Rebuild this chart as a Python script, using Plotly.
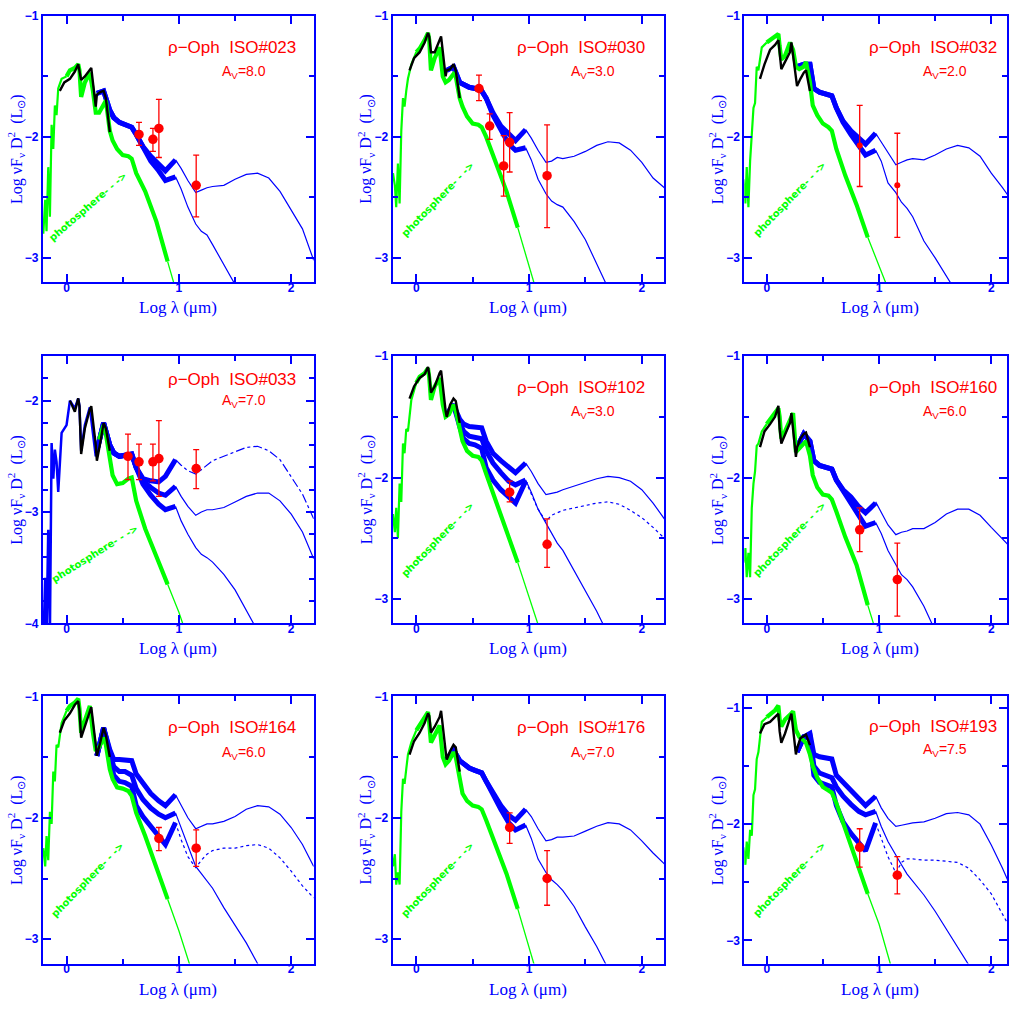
import plotly.graph_objects as go

# ---------------- shared log-lambda grids (micron) ----------------
GX = [-0.207, -0.19, -0.178, -0.163, -0.148, -0.133, -0.118, -0.104, -0.089, -0.074,
      -0.044, 0.0, 0.03, 0.074, 0.104, 0.115, 0.13, 0.163, 0.207, 0.235,
      0.26, 0.29, 0.33, 0.35, 0.385, 0.41, 0.45, 0.50, 0.55, 0.58,
      0.62, 0.70, 0.80, 0.90, 1.0, 1.1, 1.2]
BX = [-0.06, -0.02, 0.03, 0.074, 0.104, 0.115, 0.13, 0.163, 0.207, 0.22, 0.26, 0.27, 0.30, 0.33, 0.35, 0.385]
TX = [0.27, 0.33, 0.385, 0.42, 0.47, 0.52, 0.58, 0.62, 0.68, 0.75, 0.82, 0.88, 0.97]
NX = [0.97, 1.02, 1.08, 1.15, 1.2, 1.25, 1.3, 1.4, 1.5, 1.6, 1.7, 1.8, 1.9, 2.0, 2.1, 2.2]

PANELS = ["023", "030", "032", "033", "102", "160", "164", "176", "193"]
AV_VALUES = ["8.0", "3.0", "2.0", "7.0", "3.0", "6.0", "6.0", "7.0", "7.5"]

# ---------------- photospheres (green) ----------------
GREEN_023 = [-2.80, -2.52, -2.78, -2.25, -2.66, -1.90, -2.10, -1.74, -1.82, -1.60, -1.52, -1.50, -1.45, -1.43, -1.40, -1.45, -1.67, -1.55, -1.47, -1.62, -1.80, -1.80, -1.74, -1.70, -1.95, -2.03, -2.10, -2.15, -2.16, -2.18, -2.30, -2.45, -2.70, -3.03, -3.35, -3.70, -4.00]
GREEN_030 = [-2.30, -2.40, -2.58, -2.22, -2.55, -1.95, -1.68, -1.75, -1.62, -1.52, -1.40, -1.30, -1.27, -1.20, -1.14, -1.20, -1.45, -1.35, -1.26, -1.50, -1.55, -1.53, -1.48, -1.50, -1.68, -1.75, -1.83, -1.89, -1.90, -1.92, -2.00, -2.20, -2.45, -2.75, -3.05, -3.38, -3.70]
GREEN_032 = [-2.35, -2.55, -2.25, -2.58, -2.20, -1.95, -1.76, -1.72, -1.42, -1.45, -1.26, -1.22, -1.20, -1.17, -1.15, -1.25, -1.36, -1.33, -1.22, -1.28, -1.42, -1.44, -1.42, -1.38, -1.55, -1.74, -1.82, -1.89, -1.92, -1.95, -2.10, -2.32, -2.56, -2.83, -3.07, -3.30, -3.60]
GREEN_033 = [None, None, None, None, None, None, None, None, None, None, None, None, None, None, None, None, None, None, None, None, None, -2.35, -2.22, -2.30, -2.55, -2.67, -2.75, -2.74, -2.70, -2.69, -2.90, -3.15, -3.40, -3.65, -3.90, -4.20, -4.50]
GREEN_102 = [-2.30, -2.45, -2.25, -2.50, -2.05, -2.20, -1.72, -1.80, -1.60, -1.62, -1.36, -1.22, -1.17, -1.14, -1.10, -1.18, -1.36, -1.25, -1.18, -1.40, -1.50, -1.48, -1.40, -1.45, -1.60, -1.70, -1.78, -1.82, -1.83, -1.86, -1.97, -2.18, -2.42, -2.70, -2.98, -3.25, -3.55]
GREEN_160 = [-2.70, -2.58, -2.82, -2.62, -2.82, -2.25, -2.05, -1.95, -1.74, -1.72, -1.62, -1.56, -1.52, -1.47, -1.43, -1.50, -1.68, -1.62, -1.52, -1.47, -1.79, -1.76, -1.72, -1.70, -1.82, -1.98, -2.08, -2.14, -2.15, -2.18, -2.28, -2.49, -2.72, -3.05, -3.35, -3.65, -3.95]
GREEN_164 = [-2.25, -2.40, -2.15, -2.35, -1.95, -2.05, -1.62, -1.70, -1.40, -1.42, -1.22, -1.12, -1.08, -1.05, -1.02, -1.10, -1.30, -1.20, -1.08, -1.30, -1.45, -1.42, -1.34, -1.40, -1.60, -1.68, -1.75, -1.76, -1.78, -1.82, -1.96, -2.15, -2.40, -2.67, -2.93, -3.22, -3.52]
GREEN_176 = [-2.40, -2.30, -2.55, -2.45, -2.55, -1.95, -1.68, -1.72, -1.60, -1.48, -1.38, -1.28, -1.24, -1.18, -1.13, -1.22, -1.38, -1.32, -1.24, -1.50, -1.56, -1.53, -1.46, -1.50, -1.70, -1.80, -1.86, -1.90, -1.91, -1.93, -2.02, -2.22, -2.46, -2.75, -3.05, -3.38, -3.70]
GREEN_193 = [-2.20, -2.35, -2.15, -2.30, -2.05, -2.10, -1.75, -1.70, -1.44, -1.38, -1.12, -1.08, -1.06, -1.02, -0.98, -1.10, -1.16, -1.10, -1.06, -1.03, -1.19, -1.25, -1.28, -1.30, -1.40, -1.50, -1.60, -1.68, -1.71, -1.73, -1.82, -2.04, -2.32, -2.60, -2.86, -3.20, -3.50]

# left part of ISO#033 drawn in blue (x = GX[:22])
BLUE_LEFT_033 = [-4.2, -3.59, -4.1, -3.16, -4.1, -2.38, -2.70, -2.44, -2.55, -2.82, -2.29, -2.22, -2.00, -2.07, -1.98, -2.05, -2.45, -2.22, -2.06, -2.30, -2.50, -2.40]

# ---------------- observed spectra (black) ----------------
BLACK_023 = [-1.62, -1.55, -1.52, -1.46, -1.40, -1.45, -1.53, -1.50, -1.45, -1.43, -1.75, -1.65, -1.63, -1.62, -1.68, -1.96]
BLACK_030 = [-1.45, -1.35, -1.30, -1.22, -1.14, -1.17, -1.30, -1.30, -1.20, -1.17, -1.50, -1.45, -1.44, -1.40, -1.45, -1.68]
BLACK_032 = [-1.52, -1.40, -1.28, -1.24, -1.20, -1.30, -1.44, -1.38, -1.30, -1.22, -1.55, -1.58, -1.52, -1.47, -1.45, -1.62]
BLACK_033 = [None, None, -2.00, -2.10, -1.98, -2.05, -2.48, -2.25, -2.08, -2.05, -2.40, -2.54, -2.38, -2.20, -2.25, -2.45]
BLACK_102 = [-1.35, -1.25, -1.18, -1.15, -1.09, -1.15, -1.30, -1.25, -1.14, -1.12, -1.45, -1.50, -1.40, -1.35, -1.37, -1.55]
BLACK_160 = [-1.75, -1.62, -1.56, -1.50, -1.41, -1.60, -1.72, -1.65, -1.55, -1.47, -1.83, -1.75, -1.68, -1.64, -1.63, -1.75]
BLACK_164 = [-1.30, -1.20, -1.14, -1.07, -1.04, -1.12, -1.34, -1.25, -1.12, -1.09, -1.40, -1.49, -1.38, -1.26, -1.32, -1.50]
BLACK_176 = [-1.48, -1.37, -1.30, -1.22, -1.14, -1.16, -1.30, -1.25, -1.17, -1.12, -1.45, -1.52, -1.45, -1.40, -1.42, -1.62]
BLACK_193 = [-1.22, -1.14, -1.12, -1.08, -1.05, -1.20, -1.30, -1.22, -1.10, -1.05, -1.40, -1.35, -1.26, -1.24, -1.23, -1.32]

# ---------------- models, near-IR part (thick blue, x = TX) ----------------
THICK_023_A = [-1.64, -1.62, -1.78, -1.84, -1.88, -1.90, -1.92, -1.98, -2.08, -2.16, -2.22, -2.28, -2.19]
THICK_023_B = [-1.64, -1.62, -1.78, -1.84, -1.88, -1.90, -1.92, -1.98, -2.09, -2.20, -2.28, -2.36, -2.33]
THICK_030_A = [-1.45, -1.42, -1.55, -1.57, -1.59, -1.60, -1.62, -1.68, -1.80, -1.91, -1.98, -2.03, -1.94]
THICK_030_B = [-1.45, -1.42, -1.55, -1.57, -1.59, -1.60, -1.62, -1.68, -1.82, -1.94, -2.06, -2.11, -2.09]
THICK_032_A = [-1.42, -1.40, -1.40, -1.60, -1.63, -1.64, -1.66, -1.76, -1.87, -1.95, -2.01, -2.06, -1.97]
THICK_032_B = [-1.42, -1.40, -1.40, -1.60, -1.63, -1.64, -1.66, -1.76, -1.88, -1.98, -2.07, -2.15, -2.11]
THICK_033_A = [-2.45, -2.20, -2.40, -2.47, -2.50, -2.49, -2.48, -2.60, -2.70, -2.72, -2.73, -2.68, -2.53]
THICK_033_B = [-2.45, -2.20, -2.40, -2.47, -2.50, -2.49, -2.48, -2.60, -2.72, -2.78, -2.83, -2.85, -2.77]
THICK_033_C = [-2.45, -2.20, -2.40, -2.47, -2.50, -2.49, -2.48, -2.60, -2.75, -2.85, -2.93, -2.98, -2.95]
THICK_102_A = [-1.48, -1.40, -1.52, -1.56, -1.58, -1.58, -1.59, -1.70, -1.80, -1.86, -1.92, -1.96, -1.88]
THICK_102_B = [-1.48, -1.40, -1.55, -1.62, -1.66, -1.67, -1.68, -1.78, -1.88, -1.96, -2.03, -2.06, -2.02]
THICK_102_C = [-1.48, -1.40, -1.58, -1.68, -1.72, -1.73, -1.76, -1.92, -2.02, -2.10, -2.16, -2.21, -2.03]
THICK_160_A = [-1.75, -1.64, -1.70, -1.86, -1.90, -1.91, -1.93, -2.02, -2.10, -2.16, -2.24, -2.29, -2.21]
THICK_160_B = [-1.75, -1.64, -1.70, -1.86, -1.90, -1.91, -1.93, -2.02, -2.11, -2.20, -2.32, -2.40, -2.37]
THICK_164_A = [-1.49, -1.26, -1.44, -1.52, -1.52, -1.52, -1.53, -1.64, -1.72, -1.80, -1.86, -1.90, -1.81]
THICK_164_B = [-1.49, -1.26, -1.46, -1.58, -1.62, -1.62, -1.65, -1.76, -1.85, -1.92, -1.97, -2.00, -1.96]
THICK_164_C = [-1.49, -1.26, -1.48, -1.65, -1.70, -1.71, -1.74, -1.90, -1.99, -2.07, -2.14, -2.22, -2.04]
THICK_176_A = [-1.52, -1.44, -1.53, -1.56, -1.59, -1.61, -1.63, -1.70, -1.80, -1.90, -1.98, -2.02, -1.93]
THICK_176_B = [-1.52, -1.44, -1.53, -1.56, -1.59, -1.61, -1.63, -1.70, -1.81, -1.93, -2.04, -2.10, -2.06]
THICK_193_A = [-1.38, -1.25, -1.22, -1.40, -1.42, -1.43, -1.44, -1.58, -1.64, -1.71, -1.79, -1.84, -1.76]
THICK_193_B = [-1.38, -1.25, -1.24, -1.50, -1.56, -1.58, -1.60, -1.68, -1.76, -1.83, -1.89, -1.92, -1.89]
THICK_193_C = [-1.38, -1.25, -1.26, -1.58, -1.64, -1.66, -1.68, -1.84, -1.98, -2.08, -2.17, -2.23, -1.99]

# ---------------- models, mid/far-IR part (thin blue, x = NX) ----------------
THIN_023_A = [-2.19, -2.26, -2.36, -2.46, -2.44, -2.42, -2.41, -2.40, -2.35, -2.31, -2.30, -2.34, -2.45, -2.60, -2.76, -3.02]
THIN_023_B = [-2.33, -2.43, -2.58, -2.72, -2.78, -2.81, -2.89, -3.06, -3.22, -3.42, -3.62, -3.82, -4.02, -4.22, -4.42, -4.62]
THIN_030_A = [-1.94, -2.01, -2.11, -2.21, -2.20, -2.17, -2.18, -2.16, -2.12, -2.07, -2.04, -2.05, -2.11, -2.21, -2.34, -2.42]
THIN_030_B = [-2.09, -2.19, -2.35, -2.47, -2.53, -2.56, -2.58, -2.70, -2.85, -3.04, -3.24, -3.44, -3.64, -3.84, -4.04, -4.24]
THIN_032_A = [-1.97, -2.04, -2.13, -2.23, -2.21, -2.19, -2.18, -2.19, -2.15, -2.10, -2.07, -2.09, -2.16, -2.30, -2.42, -2.55]
THIN_032_B = [-2.11, -2.20, -2.38, -2.46, -2.54, -2.59, -2.66, -2.86, -3.00, -3.15, -3.30, -3.50, -3.70, -3.90, -4.10, -4.30]
THIN_033_A = [-2.53, -2.58, -2.63, -2.66, -2.62, -2.58, -2.54, -2.50, -2.46, -2.42, -2.41, -2.45, -2.53, -2.68, -2.84, -3.06]
THIN_033_B = [-2.77, -2.86, -2.95, -3.03, -3.00, -2.98, -2.98, -2.96, -2.91, -2.86, -2.83, -2.83, -2.90, -3.02, -3.18, -3.42]
THIN_033_C = [-2.95, -3.08, -3.20, -3.32, -3.38, -3.41, -3.45, -3.56, -3.70, -3.88, -4.05, -4.25, -4.45, -4.65, -4.85, -5.05]
THIN_102_A = [-1.88, -1.95, -2.05, -2.14, -2.13, -2.12, -2.10, -2.07, -2.04, -2.01, -1.99, -2.00, -2.03, -2.10, -2.21, -2.34]
THIN_102_B = [-2.02, -2.12, -2.26, -2.38, -2.46, -2.54, -2.60, -2.77, -2.93, -3.10, -3.29, -3.48, -3.67, -3.86, -4.05, -4.24]
THIN_102_C = [-2.03, -2.13, -2.26, -2.36, -2.31, -2.29, -2.27, -2.25, -2.23, -2.21, -2.20, -2.22, -2.27, -2.33, -2.41, -2.50]
THIN_160_A = [-2.20, -2.29, -2.39, -2.47, -2.45, -2.44, -2.42, -2.42, -2.37, -2.30, -2.26, -2.26, -2.31, -2.41, -2.50, -2.60]
THIN_160_B = [-2.37, -2.46, -2.60, -2.71, -2.80, -2.84, -2.90, -3.06, -3.26, -3.46, -3.66, -3.86, -4.06, -4.26, -4.46, -4.66]
THIN_164_A = [-1.81, -1.90, -2.00, -2.09, -2.07, -2.05, -2.05, -2.03, -1.99, -1.93, -1.90, -1.91, -1.97, -2.08, -2.22, -2.40]
THIN_164_B = [-1.96, -2.08, -2.24, -2.40, -2.46, -2.52, -2.58, -2.74, -2.89, -3.03, -3.20, -3.38, -3.56, -3.74, -3.92, -4.10]
THIN_164_C = [-2.04, -2.18, -2.32, -2.41, -2.35, -2.30, -2.27, -2.25, -2.25, -2.23, -2.22, -2.25, -2.33, -2.44, -2.56, -2.66]
THIN_176_A = [-1.93, -1.99, -2.09, -2.19, -2.18, -2.16, -2.16, -2.15, -2.11, -2.07, -2.04, -2.05, -2.10, -2.19, -2.29, -2.38]
THIN_176_B = [-2.06, -2.17, -2.34, -2.45, -2.51, -2.55, -2.60, -2.73, -2.90, -3.06, -3.24, -3.44, -3.64, -3.84, -4.04, -4.24]
THIN_193_A = [-1.76, -1.86, -1.95, -2.02, -2.01, -2.00, -1.99, -1.98, -1.95, -1.91, -1.90, -1.92, -2.00, -2.18, -2.38, -2.60]
THIN_193_B = [-1.89, -2.02, -2.15, -2.26, -2.35, -2.43, -2.49, -2.61, -2.75, -2.90, -3.04, -3.19, -3.35, -3.51, -3.67, -3.83]
THIN_193_C = [-1.99, -2.12, -2.28, -2.42, -2.33, -2.30, -2.30, -2.31, -2.31, -2.32, -2.33, -2.38, -2.48, -2.60, -2.78, -2.95]

# ---------------- photometry (red points; value, upper and lower ends of bars) ----------------
RX_023 = [0.645, 0.769, 0.822, 1.154]; RY_023 = [-1.98, -2.02, -1.93, -2.40]
RHI_023 = [-1.88, -1.93, -1.69, -2.15]; RLO_023 = [-2.07, -2.12, -2.17, -2.66]
RX_030 = [0.556, 0.651, 0.775, 0.828, 1.16]; RY_030 = [-1.60, -1.91, -2.24, -2.045, -2.32]
RHI_030 = [-1.49, -1.81, -1.99, -1.80, -1.90]; RLO_030 = [-1.70, -2.02, -2.49, -2.29, -2.75]
RX_032 = [0.828, 1.163]; RY_032 = [-2.07, -2.40]
RHI_032 = [-1.74, -1.97]; RLO_032 = [-2.41, -2.83]
RX_033 = [0.547, 0.645, 0.769, 0.822, 1.154]; RY_033 = [-2.50, -2.55, -2.55, -2.52, -2.61]
RHI_033 = [-2.30, -2.39, -2.39, -2.18, -2.44]; RLO_033 = [-2.71, -2.71, -2.72, -2.86, -2.79]
RX_102 = [0.828, 1.16]; RY_102 = [-2.12, -2.55]
RHI_102 = [-2.03, -2.34]; RLO_102 = [-2.20, -2.74]
RX_160 = [0.828, 1.163]; RY_160 = [-2.43, -2.84]
RHI_160 = [-2.25, -2.54]; RLO_160 = [-2.61, -3.14]
RX_164 = [0.822, 1.154]; RY_164 = [-2.17, -2.25]
RHI_164 = [-2.08, -2.10]; RLO_164 = [-2.27, -2.40]
RX_176 = [0.828, 1.16]; RY_176 = [-2.08, -2.50]
RHI_176 = [-1.96, -2.27]; RLO_176 = [-2.21, -2.72]
RX_193 = [0.828, 1.163]; RY_193 = [-2.20, -2.44]
RHI_193 = [-2.04, -2.28]; RLO_193 = [-2.37, -2.60]

# ---------------- lookup tables built from the arrays above ----------------
GREEN = {"023": GREEN_023, "030": GREEN_030, "032": GREEN_032, "033": GREEN_033, "102": GREEN_102,
         "160": GREEN_160, "164": GREEN_164, "176": GREEN_176, "193": GREEN_193}
BLACK = {"023": BLACK_023, "030": BLACK_030, "032": BLACK_032, "033": BLACK_033, "102": BLACK_102,
         "160": BLACK_160, "164": BLACK_164, "176": BLACK_176, "193": BLACK_193}
THICK = {"023": [THICK_023_A, THICK_023_B], "030": [THICK_030_A, THICK_030_B],
         "032": [THICK_032_A, THICK_032_B], "033": [THICK_033_A, THICK_033_B, THICK_033_C],
         "102": [THICK_102_A, THICK_102_B, THICK_102_C], "160": [THICK_160_A, THICK_160_B],
         "164": [THICK_164_A, THICK_164_B, THICK_164_C], "176": [THICK_176_A, THICK_176_B],
         "193": [THICK_193_A, THICK_193_B, THICK_193_C]}
THIN = {"023": [THIN_023_A, THIN_023_B], "030": [THIN_030_A, THIN_030_B],
        "032": [THIN_032_A, THIN_032_B], "033": [THIN_033_A, THIN_033_B, THIN_033_C],
        "102": [THIN_102_A, THIN_102_B, THIN_102_C], "160": [THIN_160_A, THIN_160_B],
        "164": [THIN_164_A, THIN_164_B, THIN_164_C], "176": [THIN_176_A, THIN_176_B],
        "193": [THIN_193_A, THIN_193_B, THIN_193_C]}
RED = {"023": (RX_023, RY_023, RHI_023, RLO_023), "030": (RX_030, RY_030, RHI_030, RLO_030),
       "032": (RX_032, RY_032, RHI_032, RLO_032), "033": (RX_033, RY_033, RHI_033, RLO_033),
       "102": (RX_102, RY_102, RHI_102, RLO_102), "160": (RX_160, RY_160, RHI_160, RLO_160),
       "164": (RX_164, RY_164, RHI_164, RLO_164), "176": (RX_176, RY_176, RHI_176, RLO_176),
       "193": (RX_193, RY_193, RHI_193, RLO_193)}

# ---------------- styling / layout ----------------
BLUE = "#0000ff"
RED_C = "#ff0000"
GREEN_C = "#00ff00"
W = H = 1009
COL_L = [43, 393, 745]
COL_R = [314, 665, 1008]
ROW_T = [9, 354, 699]
ROW_B = [279, 625, 970]
THIN_DASH = {"033": ["dashdot", "solid", "solid"], "102": ["solid", "solid", "dot"],
             "164": ["solid", "solid", "dot"], "193": ["solid", "solid", "dot"]}
Y_RANGE = {"033": [-4.0, -1.6], "193": [-3.2, -0.9]}
TITLE_DY = {"033": (24, 46), "193": (31, 54)}
PHOTO_POS = {"023": (45, 193, 41), "033": (52, 200, 32)}

fig = go.Figure()
annotations = []
layout_axes = {}


def px_x(px):
    return px / W


def px_y(py):
    return 1 - py / H


for i, pid in enumerate(PANELS):
    r, c = divmod(i, 3)
    n = "" if i == 0 else str(i + 1)
    xref, yref = "x" + n, "y" + n
    L, R, T, B = COL_L[c], COL_R[c], ROW_T[r], ROW_B[r]

    # thick model bands (drawn first)
    for band in THICK[pid]:
        fig.add_trace(go.Scatter(x=TX, y=band, mode="lines", xaxis=xref, yaxis=yref,
                                 line=dict(color=BLUE, width=5), hoverinfo="skip"))
    dashes = THIN_DASH.get(pid, ["solid", "solid"])
    for band, dsh in zip(THIN[pid], dashes):
        fig.add_trace(go.Scatter(x=NX, y=band, mode="lines", xaxis=xref, yaxis=yref,
                                 line=dict(color=BLUE, width=1.2, dash=dsh), hoverinfo="skip"))
    if pid == "033":
        fig.add_trace(go.Scatter(x=GX[:22], y=BLUE_LEFT_033, mode="lines", xaxis=xref, yaxis=yref,
                                 line=dict(color=BLUE, width=2.5), hoverinfo="skip"))
    g = GREEN[pid]
    fig.add_trace(go.Scatter(x=GX[:12], y=g[:12], mode="lines", xaxis=xref, yaxis=yref,
                             line=dict(color=GREEN_C, width=2.2), hoverinfo="skip"))
    fig.add_trace(go.Scatter(x=GX[11:34], y=g[11:34], mode="lines", xaxis=xref, yaxis=yref,
                             line=dict(color=GREEN_C, width=4.2), hoverinfo="skip"))
    fig.add_trace(go.Scatter(x=GX[33:], y=g[33:], mode="lines", xaxis=xref, yaxis=yref,
                             line=dict(color=GREEN_C, width=1.3), hoverinfo="skip"))
    fig.add_trace(go.Scatter(x=BX, y=BLACK[pid], mode="lines", xaxis=xref, yaxis=yref,
                             line=dict(color="black", width=2.4), hoverinfo="skip"))
    rx, ry, rhi, rlo = RED[pid]
    fig.add_trace(go.Scatter(
        x=rx, y=ry, mode="markers", xaxis=xref, yaxis=yref,
        marker=dict(color=RED_C, size=6 if pid == "032" else 9.5),
        error_y=dict(type="data", symmetric=False,
                     array=[h - v for h, v in zip(rhi, ry)],
                     arrayminus=[v - l for v, l in zip(ry, rlo)],
                     color=RED_C, thickness=1.3, width=3),
        hoverinfo="skip"))

    common = dict(showline=True, linecolor=BLUE, linewidth=2, mirror="allticks",
                  ticks="inside", tickcolor=BLUE, tickwidth=1.5, ticklen=8,
                  showgrid=False, zeroline=False, tick0=0, dtick=1,
                  tickfont=dict(family="Liberation Sans", size=12, color=BLUE, weight="bold"))
    xr = [-0.21, 2.2] if c < 2 else [-0.2, 2.14]
    layout_axes["xaxis" + n] = dict(common, domain=[px_x(L), px_x(R)], range=xr,
                                    anchor=yref, ticklabelstandoff=-7,
                                    minor=dict(dtick=0.5, ticklen=5, ticks="inside",
                                               tickcolor=BLUE, tickwidth=1.5))
    layout_axes["yaxis" + n] = dict(common, domain=[px_y(B), px_y(T)],
                                    range=Y_RANGE.get(pid, [-3.2, -1.0]),
                                    anchor=xref, ticklabelstandoff=0,
                                    minor=dict(dtick=0.2 if pid == "033" else 0.5, ticklen=5,
                                               ticks="inside", tickcolor=BLUE, tickwidth=1.5))

    # titles
    tdy, ady = TITLE_DY.get(pid, (32, 57))
    annotations.append(dict(xref="paper", yref="paper", x=px_x(L + 189), y=px_y(T + tdy),
                            text="ρ−Oph\u00a0 ISO#" + pid, showarrow=False,
                            xanchor="center", yanchor="middle",
                            font=dict(family="Liberation Sans", size=17, color=RED_C)))
    annotations.append(dict(xref="paper", yref="paper", x=px_x(L + 201), y=px_y(T + ady),
                            text="A<sub>V</sub>=" + AV_VALUES[i], showarrow=False,
                            xanchor="center", yanchor="middle",
                            font=dict(family="Liberation Sans", size=14, color=RED_C)))
    # axis titles
    annotations.append(dict(xref="paper", yref="paper", x=px_x((L + R) / 2 if c < 2 else L + 135.5),
                            y=px_y(B + 26), text="Log λ (μm)", showarrow=False,
                            xanchor="center", yanchor="middle",
                            font=dict(family="Liberation Serif", size=17, color=BLUE)))
    annotations.append(dict(xref="paper", yref="paper", x=px_x(L - 27), y=px_y((T + B) / 2),
                            text="Log νF<sub>ν</sub> D<sup>2</sup>\u00a0\u00a0(L<sub>⊙</sub>)",
                            showarrow=False, textangle=-90, xanchor="center", yanchor="middle",
                            font=dict(family="Liberation Serif", size=16, color=BLUE)))
    # photosphere label
    pxo, pyo, ang = PHOTO_POS.get(pid, (45, 186, 46))
    annotations.append(dict(xref="paper", yref="paper", x=px_x(L + pxo), y=px_y(T + pyo),
                            text="photosphere- - ->", showarrow=False, textangle=-ang,
                            xanchor="center", yanchor="middle",
                            font=dict(family="DejaVu Sans", size=10, color=GREEN_C, weight="bold")))

fig.update_layout(width=W, height=H, margin=dict(l=0, r=0, t=0, b=0),
                  paper_bgcolor="white", plot_bgcolor="white", showlegend=False,
                  annotations=annotations, **layout_axes)
fig.write_html("out.html")
